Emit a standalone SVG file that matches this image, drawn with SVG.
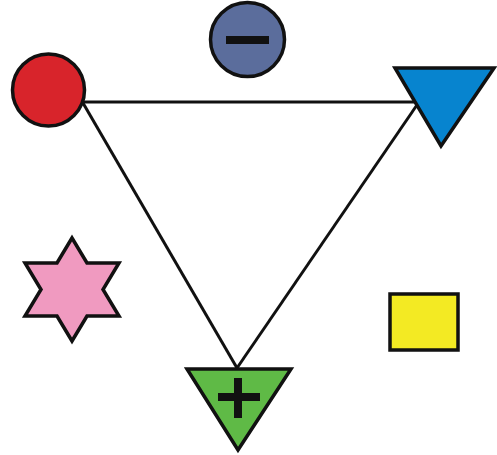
<svg xmlns="http://www.w3.org/2000/svg" width="497" height="455" viewBox="0 0 497 455">
<style>
.s{stroke:#111;stroke-width:3.5;stroke-linejoin:miter}
.c{stroke:#111;stroke-width:3;fill:none}
.k{fill:#111}
</style>
<rect width="497" height="455" fill="#fff"/>
<g id="connectors">
<line class="c" x1="84" y1="102" x2="419" y2="102"/>
<line class="c" x1="83" y1="103" x2="237" y2="368"/>
<line class="c" x1="419" y1="102" x2="237" y2="368"/>
</g>
<g id="red-circle"><circle class="s" cx="48.5" cy="90" r="36" fill="#d8242b"/></g>
<g id="minus-circle"><circle class="s" cx="247.5" cy="39.5" r="37" fill="#5b6d9c"/><rect class="k" x="226" y="36" width="43" height="8"/></g>
<g id="blue-triangle"><polygon class="s" points="395,68 494,68 441,146" fill="#0784cf"/></g>
<g id="star"><polygon class="s" points="72,238 87,263 119,263 103,289.5 119,316 87,316 72,341 57,316 25,316 41,289.5 25,263 57,263" fill="#f09ac0"/></g>
<g id="yellow-rect"><rect class="s" x="390" y="294" width="68" height="56" fill="#f3ea23"/></g>
<g id="green-triangle"><polygon class="s" points="187,369 291,369 238,450" fill="#5fba46"/><rect class="k" x="218" y="393" width="42" height="8"/><rect class="k" x="234" y="378" width="8" height="40"/></g>
</svg>
